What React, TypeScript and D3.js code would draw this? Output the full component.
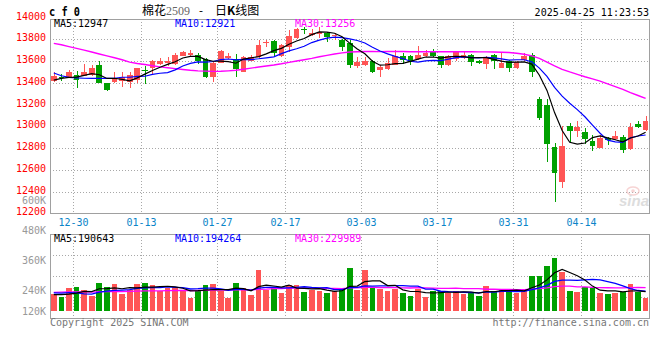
import * as d3 from "d3";

// trading days shown (CF2509 daily K)
const dates = [
  "12-26", "12-27", "12-30", "12-31", "01-02", "01-03", "01-06", "01-07", "01-08", "01-09",
  "01-10", "01-13", "01-14", "01-15", "01-16", "01-17", "01-20", "01-21", "01-22", "01-23",
  "01-24", "01-27", "02-05", "02-06", "02-07", "02-10", "02-11", "02-12", "02-13", "02-14",
  "02-17", "02-18", "02-19", "02-20", "02-21", "02-24", "02-25", "02-26", "02-27", "02-28",
  "03-03", "03-04", "03-05", "03-06", "03-07", "03-10", "03-11", "03-12", "03-13", "03-14",
  "03-17", "03-18", "03-19", "03-20", "03-21", "03-24", "03-25", "03-26", "03-27", "03-28",
  "03-31", "04-01", "04-02", "04-03", "04-07", "04-08", "04-09", "04-10", "04-11", "04-14",
  "04-15", "04-16", "04-17", "04-18", "04-21", "04-22", "04-23", "04-24", "04-25",
];

const open = [
  13417, 13455, 13450, 13469, 13463, 13472, 13563, 13395, 13410, 13420,
  13410, 13426, 13518, 13533, 13573, 13585, 13573, 13650, 13655, 13655,
  13616, 13450, 13585, 13625, 13616, 13500, 13605, 13635, 13765, 13787,
  13646, 13732, 13809, 13895, 13840, 13850, 13860, 13835, 13794, 13763,
  13554, 13563, 13603, 13518, 13524, 13564, 13646, 13646, 13616, 13646,
  13686, 13646, 13564, 13616, 13625, 13656, 13603, 13573, 13656, 13540,
  13603, 13533, 13610, 13656, 13251, 13196, 12812, 12490, 13005, 12960,
  12950, 12865, 12803, 12895, 12880, 12904, 12788, 13021, 12966,
];
const high = [
  13502, 13480, 13518, 13508, 13570, 13560, 13600, 13400, 13502, 13502,
  13502, 13540, 13550, 13610, 13625, 13640, 13671, 13690, 13700, 13670,
  13625, 13590, 13700, 13671, 13665, 13650, 13655, 13794, 13794, 13795,
  13760, 13885, 13900, 13910, 13892, 13915, 13870, 13855, 13800, 13794,
  13634, 13640, 13610, 13560, 13625, 13702, 13671, 13660, 13738, 13700,
  13708, 13650, 13655, 13695, 13695, 13665, 13610, 13650, 13665, 13671,
  13610, 13600, 13677, 13671, 13267, 13250, 12849, 13003, 13027, 13051,
  12985, 12920, 12920, 12900, 12960, 12920, 13030, 13050, 13094,
];
const low = [
  13410, 13415, 13445, 13355, 13460, 13465, 13395, 13325, 13400, 13365,
  13350, 13400, 13390, 13472, 13565, 13555, 13565, 13645, 13640, 13573,
  13445, 13410, 13580, 13620, 13450, 13495, 13600, 13630, 13732, 13640,
  13640, 13686, 13800, 13849, 13830, 13810, 13778, 13794, 13695, 13540,
  13535, 13555, 13493, 13450, 13515, 13560, 13573, 13563, 13610, 13640,
  13640, 13533, 13555, 13605, 13620, 13554, 13575, 13524, 13524, 13535,
  13502, 13525, 13605, 13456, 13060, 12674, 12307, 12435, 12858, 12904,
  12840, 12776, 12800, 12830, 12875, 12757, 12780, 12980, 12960,
];
const close = [
  13467, 13450, 13502, 13426, 13502, 13540, 13400, 13334, 13435, 13450,
  13472, 13533, 13508, 13600, 13603, 13600, 13655, 13680, 13677, 13603,
  13450, 13580, 13692, 13650, 13527, 13640, 13640, 13747, 13775, 13677,
  13747, 13830, 13892, 13888, 13860, 13870, 13818, 13842, 13732, 13564,
  13594, 13603, 13502, 13548, 13585, 13646, 13610, 13594, 13656, 13677,
  13646, 13564, 13646, 13686, 13656, 13594, 13580, 13640, 13603, 13585,
  13533, 13594, 13646, 13502, 13074, 12834, 12573, 12822, 12960, 12996,
  12880, 12822, 12895, 12874, 12911, 12782, 12996, 12990, 13049,
];

const ma5 = [
  13425, 13440, 13450, 13452, 13469, 13484, 13474, 13440, 13442, 13432,
  13418, 13445, 13480, 13513, 13543, 13569, 13593, 13628, 13643, 13643,
  13613, 13598, 13600, 13595, 13580, 13618, 13630, 13641, 13666, 13696,
  13717, 13755, 13784, 13807, 13843, 13868, 13866, 13856, 13824, 13765,
  13710, 13667, 13599, 13562, 13566, 13577, 13578, 13597, 13618, 13637,
  13637, 13627, 13638, 13644, 13640, 13629, 13632, 13631, 13615, 13600,
  13588, 13591, 13592, 13572, 13470, 13330, 13126, 12961, 12853, 12837,
  12846, 12896, 12911, 12893, 12876, 12857, 12892, 12911, 12946,
];
const ma10 = [
  13490, 13465, 13450, 13445, 13442, 13440, 13440, 13440, 13442, 13451,
  13451, 13459, 13460, 13477, 13488, 13494, 13519, 13554, 13578, 13593,
  13591, 13596, 13614, 13619, 13611, 13615, 13614, 13621, 13630, 13638,
  13668, 13693, 13713, 13736, 13770, 13793, 13810, 13820, 13816, 13804,
  13789, 13766, 13727, 13693, 13666, 13643, 13623, 13598, 13590, 13602,
  13607, 13603, 13617, 13631, 13638, 13633, 13630, 13635, 13629, 13620,
  13609, 13612, 13612, 13593, 13535, 13459, 13358, 13277, 13212, 13153,
  13088, 13011, 12936, 12873, 12857, 12852, 12894, 12911, 12920,
];
const ma30 = [
  13763, 13750, 13733, 13717, 13700, 13683, 13665, 13648, 13630, 13612,
  13590, 13578, 13568, 13557, 13546, 13538, 13530, 13522, 13515, 13510,
  13507, 13505, 13506, 13510, 13515, 13525, 13535, 13545, 13555, 13564,
  13575, 13588, 13600, 13612, 13625, 13640, 13652, 13665, 13675, 13683,
  13686, 13688, 13688, 13687, 13688, 13689, 13688, 13686, 13686, 13687,
  13686, 13685, 13686, 13687, 13686, 13685, 13684, 13684, 13683, 13681,
  13678, 13672, 13662, 13648, 13625, 13590, 13555, 13524, 13500, 13478,
  13456, 13436, 13415, 13390, 13365, 13340, 13310, 13283, 13256,
];

// volume, in thousands of lots
const volumeK = [
  164, 134, 227, 237, 207, 150, 277, 237, 267, 167,
  207, 267, 277, 257, 194, 227, 237, 207, 130, 200,
  257, 267, 197, 130, 277, 230, 157, 407, 207, 234,
  177, 257, 257, 190, 207, 197, 180, 197, 217, 430,
  207, 407, 230, 217, 197, 217, 180, 150, 217, 140,
  197, 200, 180, 200, 164, 190, 150, 247, 197, 217,
  190, 174, 217, 350, 350, 450, 530, 384, 197, 184,
  240, 224, 180, 167, 180, 190, 267, 190, 130,
];
const volMa5K = [
  160, 160, 165, 175, 193.8, 191, 219.6, 221.6, 227.6, 219.6,
  231, 229, 237, 235, 240.4, 244.4, 238.4, 224.4, 199, 200.2,
  206.2, 212.2, 210.2, 210.2, 225.6, 220.2, 198.2, 240.2, 255.6, 247,
  236.4, 256.4, 226.4, 223, 217.6, 221.6, 206.2, 194.2, 199.6, 244.2,
  246.2, 291.6, 298.2, 298.2, 251.6, 253.6, 208.2, 192.2, 192.2, 180.8,
  176.8, 180.8, 186.8, 183.4, 188.2, 186.8, 176.8, 190.2, 189.6, 200.2,
  200.2, 205, 199, 229.6, 256.2, 308.2, 379.4, 412.8, 382.2, 349,
  307, 245.8, 205, 199, 198.2, 188.2, 196.8, 198.8, 191.4,
];
const volMa10K = [
  178, 176, 180, 178, 168, 165, 185, 195, 203, 206.7,
  211, 224.3, 229.3, 231.3, 230, 237.7, 233.7, 230.7, 217, 220.3,
  225.3, 225.3, 217.3, 204.6, 212.9, 213.2, 205.2, 225.2, 232.9, 236.3,
  228.3, 227.3, 233.3, 239.3, 232.3, 229, 231.3, 210.3, 211.3, 230.9,
  233.9, 248.9, 246.2, 248.9, 247.9, 249.9, 249.9, 245.2, 245.2, 216.2,
  215.2, 194.5, 189.5, 187.8, 184.5, 181.8, 178.8, 188.5, 186.5, 194.2,
  193.5, 190.9, 194.6, 209.6, 228.2, 254.2, 292.2, 305.9, 305.9, 302.6,
  307.6, 312.6, 308.9, 290.6, 273.6, 247.6, 221.3, 201.9, 195.2,
];
const volMa30K = [
  184, 185, 187, 188, 188, 186, 190, 191, 193, 192,
  194, 196, 198, 199, 199, 201, 202, 203, 201, 202,
  204, 206, 207, 205, 208, 210, 209, 214, 216, 221.1,
  221.5, 225.6, 226.6, 225.1, 225.1, 226.6, 223.4, 222.1, 220.4, 229.2,
  229.2, 233.8, 232.3, 230.9, 231, 230.7, 228.8, 226.9, 229.8, 227.8,
  225.8, 223.6, 223, 225.3, 221.6, 220.2, 220, 214.7, 214.3, 213.8,
  214.2, 211.4, 210.1, 215.4, 220.2, 228.6, 240.3, 246.5, 245.9, 237.7,
  238.8, 232.7, 231, 229.3, 228.8, 228, 231.6, 232.9, 230,
];

const priceTicks = [14000, 13800, 13600, 13400, 13200, 13000, 12800, 12600, 12400, 12200];
const priceGrid = [13800, 13600, 13400, 13200, 13000, 12800, 12600, 12400];
const volumeTicks = [600, 480, 360, 240, 120];
const dateTicks = ["12-30", "01-13", "01-27", "02-17", "03-03", "03-17", "03-31", "04-14"];

const priceLegend = [
  { text: "MA5:12947", color: "#000000", x: 54 },
  { text: "MA10:12921", color: "#0000ff", x: 175 },
  { text: "MA30:13256", color: "#ff00ff", x: 295 },
];
const volumeLegend = [
  { text: "MA5:190643", color: "#000000", x: 54 },
  { text: "MA10:194264", color: "#0000ff", x: 175 },
  { text: "MA30:229989", color: "#ff00ff", x: 295 },
];

const width = 660;
const height = 360;
const plotLeft = 50;
const plotRight = 649.4;
const priceTop = 19;
const priceBottom = 213.3;
const volTop = 234.3;
const volBottom = 318.3;

const UP = "#ff5555";
const DOWN = "#00a000";
const GRID = "#a8a8a8";
const BORDER = "#a0a0a0";
const mono = "'DejaVu Sans Mono', 'Liberation Mono', monospace";

const App = () => {
  const xScale = d3
    .scaleBand()
    .domain(dates)
    .range([plotLeft, plotRight])
    .paddingInner(0.25)
    .paddingOuter(0.125);
  const bw = xScale.bandwidth();
  const step = xScale.step();
  const cx = (i) => xScale(dates[i]) + bw / 2;
  // grid line sits at the end of the labelled day's slot
  const gridX = (d) => Math.round(xScale(d) - step * 0.125 + step) + 0.5;

  const yPrice = d3.scaleLinear().domain([12200, 14000]).range([priceBottom, 17.55]);
  const yVol = d3.scaleLinear().domain([0, 764]).range([310.7, volTop]);
  const yVolLabel = d3.scaleLinear().domain([600, 480]).range([200, 230.3]);

  const priceLine = d3
    .line()
    .x((_, i) => cx(i))
    .y((v) => yPrice(v));
  const volLine = d3
    .line()
    .x((_, i) => cx(i))
    .y((v) => yVol(v));

  const volQuarter = (volBottom - volTop) / 4;

  return (
    <div style={{ position: "absolute", left: 0, top: 0 }}>
      <svg width={width} height={height} style={{ display: "block", background: "#fff" }}>
        <defs>
          <clipPath id="clip-price">
            <rect x={plotLeft} y={priceTop} width={plotRight - plotLeft} height={priceBottom - priceTop} />
          </clipPath>
          <clipPath id="clip-vol">
            <rect x={plotLeft} y={volTop} width={plotRight - plotLeft} height={volBottom - volTop} />
          </clipPath>
        </defs>

        {/* header */}
        <text x={49} y={16} fontFamily={mono} fontWeight="bold" fontSize={12} textLength={31} lengthAdjust="spacingAndGlyphs">
          c f 0
        </text>
        <text x={142} y={15} fontFamily="'Noto Sans CJK SC', sans-serif" fontSize={12} fill="#000">
          棉花
        </text>
        <text x={166} y={15} fontFamily="'Liberation Serif', serif" fontSize={12} fill="#666">
          2509
        </text>
        <text x={199} y={14} fontFamily="'DejaVu Sans', sans-serif" fontSize={11} fill="#000">
          -
        </text>
        <text x={215} y={15} fontFamily="'Noto Sans CJK SC', sans-serif" fontSize={12} fill="#000">
          日<tspan fontWeight="bold">K</tspan>线图
        </text>
        <text x={649} y={16} textAnchor="end" fontFamily={mono} fontSize={10}>
          2025-04-25 11:23:53
        </text>

        {/* grid */}
        <g stroke={GRID} strokeDasharray="1,2" shapeRendering="crispEdges">
          {priceGrid.map((v) => (
            <line key={v} x1={plotLeft} x2={plotRight} y1={Math.round(yPrice(v)) + 0.5} y2={Math.round(yPrice(v)) + 0.5} />
          ))}
          {dateTicks.map((d) => (
            <line key={d} x1={gridX(d)} x2={gridX(d)} y1={priceTop} y2={priceBottom} />
          ))}
          {[1, 2, 3].map((k) => (
            <line
              key={k}
              x1={plotLeft}
              x2={plotRight}
              y1={Math.round(volTop + k * volQuarter) + 0.5}
              y2={Math.round(volTop + k * volQuarter) + 0.5}
            />
          ))}
          {dateTicks.map((d) => (
            <line key={"v" + d} x1={gridX(d)} x2={gridX(d)} y1={volTop} y2={volBottom} />
          ))}
        </g>

        {/* sina watermark */}
        <g opacity={0.6}>
          <ellipse cx={633} cy={191} rx={6} ry={4} fill="none" stroke="#f2b8b8" strokeWidth={1.5} />
          <circle cx={633} cy={191} r={1.8} fill="#f2b8b8" />
          <text x={619} y={206} fontFamily="'Liberation Sans', sans-serif" fontStyle="italic" fontWeight="bold" fontSize={15} fill="#c8c8c8">
            sina
          </text>
        </g>

        {/* candles */}
        <g clipPath="url(#clip-price)" shapeRendering="crispEdges">
          {dates.map((d, i) => {
            const up = close[i] >= open[i];
            const color = up ? UP : DOWN;
            const top = yPrice(Math.max(open[i], close[i]));
            const bot = yPrice(Math.min(open[i], close[i]));
            return (
              <g key={d}>
                <line x1={Math.round(cx(i)) + 0.5} x2={Math.round(cx(i)) + 0.5} y1={yPrice(high[i])} y2={yPrice(low[i])} stroke={color} />
                <rect x={xScale(d)} y={top} width={bw} height={Math.max(1, bot - top)} fill={color} />
              </g>
            );
          })}
        </g>
        <g clipPath="url(#clip-price)" fill="none">
          <path d={priceLine(ma30)} stroke="#ff00ff" strokeWidth={1.4} />
          <path d={priceLine(ma10)} stroke="#0000ff" strokeWidth={1.2} />
          <path d={priceLine(ma5)} stroke="#000000" strokeWidth={1.2} />
        </g>

        {/* volume */}
        <g clipPath="url(#clip-vol)" shapeRendering="crispEdges">
          {dates.map((d, i) => (
            <rect
              key={d}
              x={xScale(d)}
              y={yVol(volumeK[i])}
              width={bw}
              height={yVol(0) - yVol(volumeK[i])}
              fill={close[i] >= open[i] ? UP : DOWN}
            />
          ))}
        </g>
        <g clipPath="url(#clip-vol)" fill="none">
          <path d={volLine(volMa30K)} stroke="#ff00ff" strokeWidth={1.3} />
          <path d={volLine(volMa10K)} stroke="#0000ff" strokeWidth={1.3} />
          <path d={volLine(volMa5K)} stroke="#000000" strokeWidth={1.2} />
        </g>

        {/* panel borders */}
        <g fill="none" stroke={BORDER} shapeRendering="crispEdges">
          <rect x={plotLeft + 0.5} y={priceTop + 0.5} width={plotRight - plotLeft} height={priceBottom - priceTop} />
          <rect x={plotLeft + 0.5} y={volTop + 0.5} width={plotRight - plotLeft} height={volBottom - volTop} />
        </g>

        {/* legends */}
        {priceLegend.map((l) => (
          <text key={l.text} x={l.x} y={27} fontFamily={mono} fontSize={10} fill={l.color}>
            {l.text}
          </text>
        ))}
        {volumeLegend.map((l) => (
          <text key={l.text} x={l.x} y={242} fontFamily={mono} fontSize={10} fill={l.color}>
            {l.text}
          </text>
        ))}

        {/* price axis labels */}
        {priceTicks.map((v) => (
          <text key={v} x={46} y={yPrice(v) - 1.5} dominantBaseline="central" textAnchor="end" fontFamily={mono} fontSize={10} fill="#ff0000">
            {v}
          </text>
        ))}
        {/* volume axis labels */}
        {volumeTicks.map((v) => (
          <text
            key={v}
            x={46}
            y={Math.min(yVolLabel(v), 311)}
            dominantBaseline="central"
            textAnchor="end"
            fontFamily={mono}
            fontSize={10}
            fill="#999999"
          >
            {v + "K"}
          </text>
        ))}
        {/* date labels */}
        {dateTicks.map((d) => (
          <text key={d} x={gridX(d)} y={225.5} textAnchor="middle" fontFamily={mono} fontSize={10} fill="#0a84c8">
            {d}
          </text>
        ))}

        {/* footer */}
        <text x={50} y={325.5} fontFamily={mono} fontSize={10} fill="#777">
          Copyright 2025 SINA.COM
        </text>
        <text x={649} y={325.5} textAnchor="end" fontFamily={mono} fontSize={10} fill="#777">
          http://finance.sina.com.cn
        </text>
      </svg>
    </div>
  );
};

export default App;
